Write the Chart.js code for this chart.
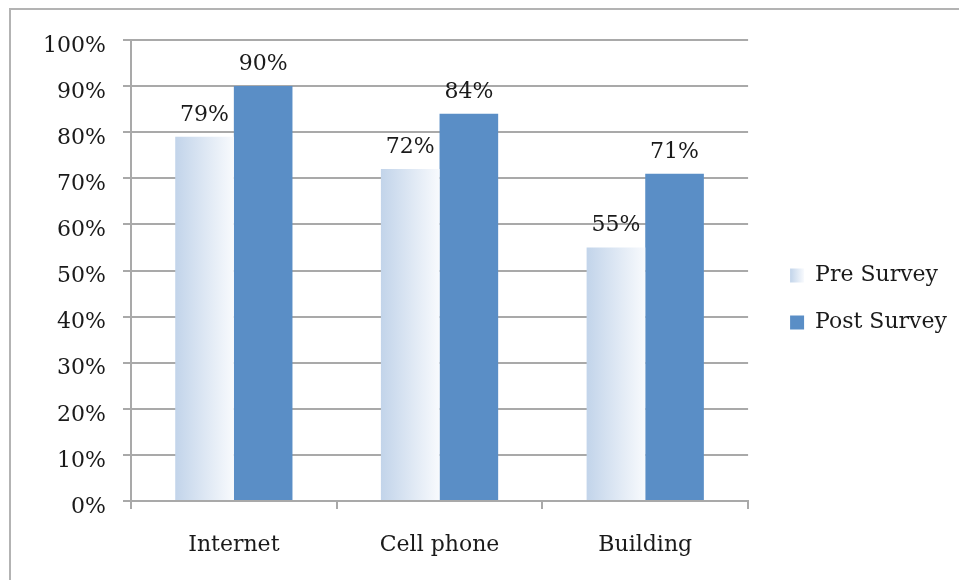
<!DOCTYPE html>
<html>
<head>
<meta charset="utf-8">
<script src="https://cdn.jsdelivr.net/npm/chart.js@4.4.1/dist/chart.umd.min.js"></script>
<style>
  html, body { margin: 0; padding: 0; background: #fff; }
  #wrap { position: relative; width: 959px; height: 580px; overflow: hidden; }
  #frame { position: absolute; left: 9px; top: 8px; width: 1000px; height: 1000px;
           border-top: 2px solid #b3b3b3; border-left: 2px solid #b3b3b3; }
  canvas { position: absolute; left: 0; top: 0; }
</style>
</head>
<body>
<div id="wrap">
  <div id="frame"></div>
  <canvas id="chart" width="959" height="580"></canvas>
</div>
<script>
// values (percent)
const categories = ['Internet', 'Cell phone', 'Building'];
const preSurvey = [79, 72, 55];
const postSurvey = [90, 84, 71];
const seriesNames = ['Pre Survey', 'Post Survey'];
const yTickLabels = ['0%', '10%', '20%', '30%', '40%', '50%', '60%', '70%', '80%', '90%', '100%'];

const FONT = '"DejaVu Serif", serif';
const TEXT = '#1a1a1a';
const GRID = '#a9a9a9';
const LEGEND_GAP = 17;
const LEGEND_PAD = 25;

Chart.defaults.font.family = FONT;
Chart.defaults.font.size = 22;
Chart.defaults.color = TEXT;

function fade(ctx, x0, x1) {
    const g = ctx.createLinearGradient(x0, 0, x1, 0);
    g.addColorStop(0, '#c2d4ea');
    g.addColorStop(1, '#f8fafd');
    return g;
}

// pre survey bars fade from light blue to white, left to right
const preGradient = {
    id: 'preGradient',
    beforeDatasetsDraw(chart) {
        const ctx = chart.ctx;
        chart.getDatasetMeta(0).data.forEach(bar => {
            const g = fade(ctx, bar.x - bar.width / 2, bar.x + bar.width / 2);
            bar.options = Object.assign({}, bar.options, { backgroundColor: g });
        });
    }
};

// value labels above each bar
const valueLabels = {
    id: 'valueLabels',
    afterDatasetsDraw(chart) {
        const ctx = chart.ctx;
        ctx.save();
        ctx.font = '22px ' + FONT;
        ctx.fillStyle = TEXT;
        ctx.textAlign = 'center';
        ctx.textBaseline = 'alphabetic';
        chart.data.datasets.forEach((ds, i) => {
            chart.getDatasetMeta(i).data.forEach((bar, j) => {
                ctx.fillText(ds.data[j] + '%', bar.x, bar.y - 16);
            });
        });
        ctx.restore();
    }
};

// leave a small gap between plot area and legend
const legendShift = {
    id: 'legendShift',
    afterLayout(chart) {
        const lg = chart.legend;
        const dx = chart.chartArea.right + LEGEND_GAP - lg.left;
        lg.left += dx;
        lg.right += dx;
    }
};

const ctx = document.getElementById('chart').getContext('2d');
new Chart(ctx, {
    type: 'bar',
    data: {
        labels: categories,
        datasets: [{
            label: seriesNames[0],
            data: preSurvey,
            backgroundColor: '#cfdeef',
            borderWidth: 0
        }, {
            label: seriesNames[1],
            data: postSurvey,
            backgroundColor: '#5a8ec6',
            borderWidth: 0
        }]
    },
    options: {
        responsive: false,
        animation: false,
        categoryPercentage: 0.57,
        barPercentage: 1,
        layout: { padding: { left: 20, top: 40, bottom: 22, right: 19 } },
        plugins: {
            tooltip: { enabled: false },
            legend: {
                position: 'right',
                labels: {
                    boxWidth: 14,
                    boxHeight: 14,
                    padding: LEGEND_PAD,
                    color: TEXT,
                    font: { size: 22 },
                    generateLabels(chart) {
                        const items = Chart.defaults.plugins.legend.labels.generateLabels(chart);
                        if (chart.chartArea) {
                            const x0 = chart.chartArea.right + LEGEND_GAP + LEGEND_PAD;
                            items[0].fillStyle = fade(chart.ctx, x0, x0 + 14);
                        }
                        return items;
                    }
                }
            }
        },
        scales: {
            x: {
                grid: { drawOnChartArea: false, drawTicks: true, tickLength: 8, color: GRID, lineWidth: 2, offset: true },
                border: { color: GRID, width: 2 },
                ticks: { padding: 23, color: TEXT },
                afterFit(scale) { scale.height = 57; }
            },
            y: {
                min: 0,
                max: 100,
                ticks: {
                    stepSize: 10,
                    padding: 17,
                    labelOffset: 6,
                    color: TEXT,
                    callback: v => yTickLabels[Math.round(v / 10)]
                },
                grid: { color: GRID, lineWidth: 2, tickLength: 8 },
                border: { color: GRID, width: 2 },
                afterFit(scale) { scale.width = 111; }
            }
        }
    },
    plugins: [preGradient, valueLabels, legendShift]
});
</script>
</body>
</html>
